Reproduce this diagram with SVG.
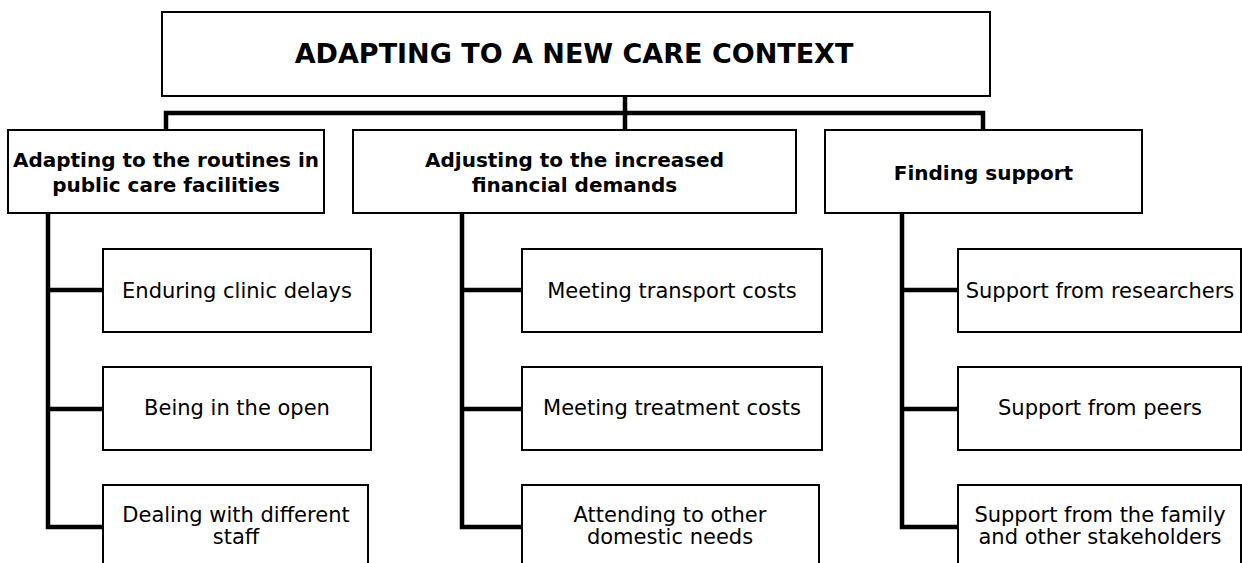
<svg xmlns="http://www.w3.org/2000/svg" width="1242" height="563" viewBox="0 0 1242 563">
<style>
.box{fill:#fff;stroke:#000;stroke-width:2}
.con{fill:none;stroke:#000;stroke-width:4.5;stroke-linejoin:miter}
text{font-family:"DejaVu Sans",Verdana,sans-serif;fill:#000;text-anchor:middle}
.t0{font-size:27px;font-weight:bold}
.t1{font-size:20px;font-weight:bold}
.t2{font-size:21px}
</style>
<rect width="1242" height="563" fill="#fff"/>
<g id="connectors">
<path class="con" d="M166,130 V113 H983 V130"/>
<path class="con" d="M625,96 V130"/>
<path class="con" d="M48,213 V527 H103 M48,290 H103 M48,409 H103"/>
<path class="con" d="M462,213 V527 H522 M462,290 H522 M462,409 H522"/>
<path class="con" d="M902,213 V527 H958 M902,290 H958 M902,409 H958"/>
</g>
<g id="root"><rect class="box" x="162" y="12" width="828" height="84"/><text class="t0" x="574" y="62.5">ADAPTING TO A NEW CARE CONTEXT</text></g>
<g id="theme1"><rect class="box" x="8" y="130" width="316" height="83"/><text class="t1" x="166" y="167">Adapting to the routines in</text><text class="t1" x="166" y="192">public care facilities</text></g>
<g id="theme2"><rect class="box" x="353" y="130" width="443" height="83"/><text class="t1" x="574.5" y="167">Adjusting to the increased</text><text class="t1" x="574.5" y="192">financial demands</text></g>
<g id="theme3"><rect class="box" x="825" y="130" width="317" height="83"/><text class="t1" x="983.5" y="180">Finding support</text></g>
<g id="s11"><rect class="box" x="103" y="249" width="268" height="83"/><text class="t2" x="237" y="298">Enduring clinic delays</text></g>
<g id="s12"><rect class="box" x="103" y="367" width="268" height="83"/><text class="t2" x="237" y="415">Being in the open</text></g>
<g id="s13"><rect class="box" x="103" y="485" width="265" height="90"/><text class="t2" x="236" y="522">Dealing with different</text><text class="t2" x="236" y="544">staff</text></g>
<g id="s21"><rect class="box" x="522" y="249" width="300" height="83"/><text class="t2" x="672" y="298">Meeting transport costs</text></g>
<g id="s22"><rect class="box" x="522" y="367" width="300" height="83"/><text class="t2" x="672" y="415">Meeting treatment costs</text></g>
<g id="s23"><rect class="box" x="522" y="485" width="297" height="90"/><text class="t2" x="670" y="522">Attending to other</text><text class="t2" x="670" y="544">domestic needs</text></g>
<g id="s31"><rect class="box" x="958" y="249" width="283" height="83"/><text class="t2" x="1100" y="298">Support from researchers</text></g>
<g id="s32"><rect class="box" x="958" y="367" width="283" height="83"/><text class="t2" x="1100" y="415">Support from peers</text></g>
<g id="s33"><rect class="box" x="958" y="485" width="283" height="90"/><text class="t2" x="1100" y="522">Support from the family</text><text class="t2" x="1100" y="544">and other stakeholders</text></g>
</svg>
